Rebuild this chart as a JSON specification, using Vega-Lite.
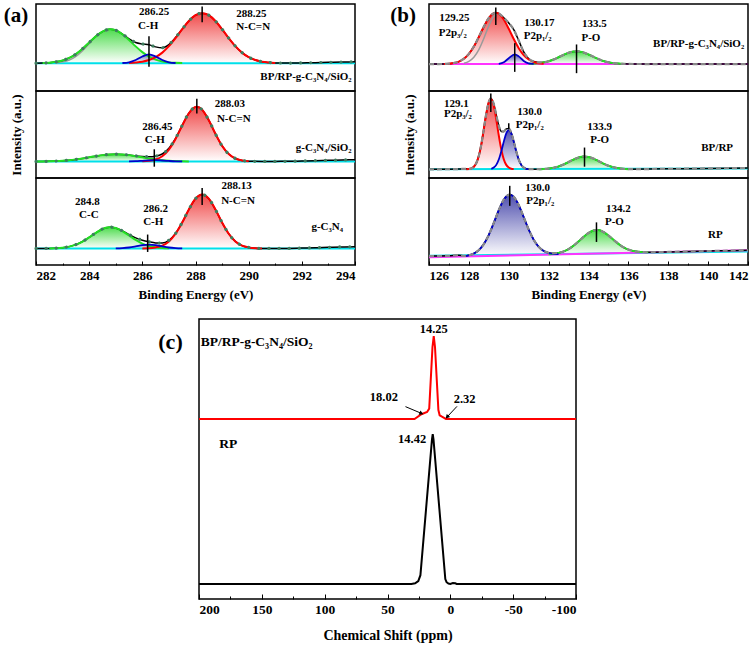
{
"$schema":"https://vega.github.io/schema/vega-lite/v6.json",
"background":"white",
"padding":{"left":3,"top":3,"right":0,"bottom":0},
"config":{"view":{"stroke":"black","strokeWidth":1.5},"font":"Liberation Serif, Times New Roman, Times, serif",
"axis":{"labelFont":"Liberation Serif, Times New Roman, Times, serif","labelFontWeight":"bold","labelFontSize":13,"labelColor":"black","titleFont":"Liberation Serif, Times New Roman, Times, serif","titleFontWeight":"bold","titleFontSize":13,"titleColor":"black","tickColor":"black","grid":false,"domain":false},
"header":{"titleFont":"Liberation Serif, Times New Roman, Times, serif","titleFontWeight":"bold","titleFontSize":13,"titleColor":"black","labels":false,"titlePadding":2},
"text":{"font":"Liberation Serif, Times New Roman, Times, serif","fontWeight":"bold","color":"black"}},
"datasets":{
"A":[
{"s":1,"k":"G","x":282.25,"y":32.2,"b":32},{"s":1,"k":"G","x":282.5,"y":32.6,"b":32},{"s":1,"k":"G","x":282.75,"y":33.5,"b":32},{"s":1,"k":"G","x":283,"y":35.1,"b":32},{"s":1,"k":"G","x":283.25,"y":38.0,"b":32},{"s":1,"k":"G","x":283.5,"y":42.4,"b":32},{"s":1,"k":"G","x":283.75,"y":48.5,"b":32},{"s":1,"k":"G","x":284,"y":55.7,"b":32},{"s":1,"k":"G","x":284.25,"y":62.8,"b":32},{"s":1,"k":"G","x":284.5,"y":68.3,"b":32},{"s":1,"k":"G","x":284.75,"y":70.9,"b":32},{"s":1,"k":"G","x":284.8,"y":71.0,"b":32},{"s":1,"k":"G","x":285,"y":69.8,"b":32},{"s":1,"k":"G","x":285.25,"y":65.3,"b":32},{"s":1,"k":"G","x":285.5,"y":58.6,"b":32},{"s":1,"k":"G","x":285.75,"y":51.3,"b":32},{"s":1,"k":"G","x":286,"y":44.7,"b":32},{"s":1,"k":"G","x":286.25,"y":39.5,"b":32},{"s":1,"k":"G","x":286.5,"y":36.1,"b":32},{"s":1,"k":"G","x":286.75,"y":34.0,"b":32},{"s":1,"k":"G","x":287,"y":32.9,"b":32},{"s":1,"k":"G","x":287.25,"y":32.4,"b":32},{"s":1,"k":"G","x":287.5,"y":32.1,"b":32},
{"s":1,"k":"g2","x":282.75,"y":32.3},{"s":1,"k":"g2","x":283,"y":33.5},{"s":1,"k":"g2","x":283.25,"y":35.6},{"s":1,"k":"g2","x":283.5,"y":39.7},{"s":1,"k":"g2","x":283.75,"y":46.2},{"s":1,"k":"g2","x":284,"y":54.4},{"s":1,"k":"g2","x":284.25,"y":62.6},{"s":1,"k":"g2","x":284.5,"y":68.0},{"s":1,"k":"g2","x":284.75,"y":69.8},
{"s":1,"k":"R","x":285.5,"y":32.3,"b":32},{"s":1,"k":"R","x":285.75,"y":32.8,"b":32},{"s":1,"k":"R","x":286,"y":33.7,"b":32},{"s":1,"k":"R","x":286.25,"y":35.6,"b":32},{"s":1,"k":"R","x":286.5,"y":38.9,"b":32},{"s":1,"k":"R","x":286.75,"y":44.1,"b":32},{"s":1,"k":"R","x":287,"y":51.5,"b":32},{"s":1,"k":"R","x":287.25,"y":60.8,"b":32},{"s":1,"k":"R","x":287.5,"y":71.0,"b":32},{"s":1,"k":"R","x":287.75,"y":80.4,"b":32},{"s":1,"k":"R","x":288,"y":87.1,"b":32},{"s":1,"k":"R","x":288.25,"y":89.5,"b":32},{"s":1,"k":"R","x":288.5,"y":87.1,"b":32},{"s":1,"k":"R","x":288.75,"y":80.4,"b":32},{"s":1,"k":"R","x":289,"y":71.0,"b":32},{"s":1,"k":"R","x":289.25,"y":60.8,"b":32},{"s":1,"k":"R","x":289.5,"y":51.5,"b":32},{"s":1,"k":"R","x":289.75,"y":44.1,"b":32},{"s":1,"k":"R","x":290,"y":38.9,"b":32},{"s":1,"k":"R","x":290.25,"y":35.6,"b":32},{"s":1,"k":"R","x":290.5,"y":33.7,"b":32},{"s":1,"k":"R","x":290.75,"y":32.8,"b":32},{"s":1,"k":"R","x":291,"y":32.3,"b":32},
{"s":1,"k":"B","x":285.25,"y":32.2,"b":32},{"s":1,"k":"B","x":285.5,"y":33.0,"b":32},{"s":1,"k":"B","x":285.75,"y":35.6,"b":32},{"s":1,"k":"B","x":286,"y":39.7,"b":32},{"s":1,"k":"B","x":286.25,"y":42.0,"b":32},{"s":1,"k":"B","x":286.5,"y":39.7,"b":32},{"s":1,"k":"B","x":286.75,"y":35.6,"b":32},{"s":1,"k":"B","x":287,"y":33.0,"b":32},{"s":1,"k":"B","x":287.25,"y":32.2,"b":32},
{"s":1,"k":"E","x":282,"y":32.0},{"s":1,"k":"E","x":282.25,"y":32.2},{"s":1,"k":"E","x":282.5,"y":32.6},{"s":1,"k":"E","x":282.75,"y":33.5},{"s":1,"k":"E","x":283,"y":35.1},{"s":1,"k":"E","x":283.25,"y":38.0},{"s":1,"k":"E","x":283.5,"y":42.4},{"s":1,"k":"E","x":283.75,"y":48.5},{"s":1,"k":"E","x":284,"y":55.7},{"s":1,"k":"E","x":284.25,"y":62.8},{"s":1,"k":"E","x":284.5,"y":68.3},{"s":1,"k":"E","x":284.75,"y":70.9},{"s":1,"k":"E","x":284.8,"y":71.0},{"s":1,"k":"E","x":285,"y":69.8},{"s":1,"k":"E","x":285.25,"y":65.5},{"s":1,"k":"E","x":285.5,"y":59.9},{"s":1,"k":"E","x":285.75,"y":55.7},{"s":1,"k":"E","x":286,"y":54.1},{"s":1,"k":"E","x":286.25,"y":53.1},{"s":1,"k":"E","x":286.5,"y":50.7},{"s":1,"k":"E","x":286.75,"y":49.7},{"s":1,"k":"E","x":287,"y":53.4},{"s":1,"k":"E","x":287.25,"y":61.4},{"s":1,"k":"E","x":287.5,"y":71.1},{"s":1,"k":"E","x":287.75,"y":80.4},{"s":1,"k":"E","x":288,"y":87.1},{"s":1,"k":"E","x":288.25,"y":89.5},{"s":1,"k":"E","x":288.5,"y":87.1},{"s":1,"k":"E","x":288.75,"y":80.4},{"s":1,"k":"E","x":289,"y":71.0},{"s":1,"k":"E","x":289.25,"y":60.8},{"s":1,"k":"E","x":289.5,"y":51.5},{"s":1,"k":"E","x":289.75,"y":44.1},{"s":1,"k":"E","x":290,"y":38.9},{"s":1,"k":"E","x":290.25,"y":35.6},{"s":1,"k":"E","x":290.5,"y":33.7},{"s":1,"k":"E","x":290.75,"y":32.8},{"s":1,"k":"E","x":291,"y":32.3},{"s":1,"k":"E","x":291.5,"y":32.1},{"s":1,"k":"E","x":292,"y":32.3},{"s":1,"k":"E","x":292.5,"y":32.6},{"s":1,"k":"E","x":293,"y":33.0},{"s":1,"k":"E","x":293.5,"y":33.3},{"s":1,"k":"E","x":294,"y":33.5},
{"s":1,"k":"bc","x":282,"y":32},{"s":1,"k":"bc","x":294,"y":32},
{"s":1,"k":"v","x":284.8},
{"s":1,"k":"m","x":288.25,"y":79,"y2":97},{"s":1,"k":"m","x":286.25,"y":28,"y2":63},
{"s":1,"k":"t","x":286.44,"y":91,"t":"286.25"},{"s":1,"k":"t","x":286.22,"y":75,"t":"C-H"},{"s":1,"k":"t","x":290.1,"y":88,"t":"288.25"},{"s":1,"k":"t","x":290.17,"y":73,"t":"N-C=N"},
{"s":1,"k":"tr","x":293.87,"y":16.6,"t":"BP/RP-g-C₃N₄/SiO₂"},
{"s":1,"k":"p","x":281.25,"y":86,"t":"(a)"},

{"s":2,"k":"G","x":282,"y":19.0,"b":19},{"s":2,"k":"G","x":282.25,"y":19.1,"b":19},{"s":2,"k":"G","x":282.5,"y":19.3,"b":19},{"s":2,"k":"G","x":282.75,"y":19.5,"b":19},{"s":2,"k":"G","x":283,"y":19.9,"b":19},{"s":2,"k":"G","x":283.25,"y":20.5,"b":19},{"s":2,"k":"G","x":283.5,"y":21.4,"b":19},{"s":2,"k":"G","x":283.75,"y":22.5,"b":19},{"s":2,"k":"G","x":284,"y":23.8,"b":19},{"s":2,"k":"G","x":284.25,"y":25.1,"b":19},{"s":2,"k":"G","x":284.5,"y":26.3,"b":19},{"s":2,"k":"G","x":284.75,"y":27.1,"b":19},{"s":2,"k":"G","x":285,"y":27.4,"b":19},{"s":2,"k":"G","x":285.25,"y":27.1,"b":19},{"s":2,"k":"G","x":285.5,"y":26.3,"b":19},{"s":2,"k":"G","x":285.75,"y":25.1,"b":19},{"s":2,"k":"G","x":286,"y":23.8,"b":19},{"s":2,"k":"G","x":286.25,"y":22.5,"b":19},{"s":2,"k":"G","x":286.5,"y":21.4,"b":19},{"s":2,"k":"G","x":286.75,"y":20.5,"b":19},{"s":2,"k":"G","x":287,"y":19.9,"b":19},{"s":2,"k":"G","x":287.25,"y":19.5,"b":19},{"s":2,"k":"G","x":287.5,"y":19.3,"b":19},{"s":2,"k":"G","x":287.75,"y":19.1,"b":19},
{"s":2,"k":"R","x":286,"y":19.2,"b":19},{"s":2,"k":"R","x":286.25,"y":19.7,"b":19},{"s":2,"k":"R","x":286.5,"y":21.2,"b":19},{"s":2,"k":"R","x":286.75,"y":25.0,"b":19},{"s":2,"k":"R","x":287,"y":32.6,"b":19},{"s":2,"k":"R","x":287.25,"y":44.8,"b":19},{"s":2,"k":"R","x":287.5,"y":60.3,"b":19},{"s":2,"k":"R","x":287.75,"y":74.4,"b":19},{"s":2,"k":"R","x":288,"y":81.6,"b":19},{"s":2,"k":"R","x":288.05,"y":81.8,"b":19},{"s":2,"k":"R","x":288.25,"y":78.4,"b":19},{"s":2,"k":"R","x":288.5,"y":66.4,"b":19},{"s":2,"k":"R","x":288.75,"y":50.8,"b":19},{"s":2,"k":"R","x":289,"y":36.9,"b":19},{"s":2,"k":"R","x":289.25,"y":27.5,"b":19},{"s":2,"k":"R","x":289.5,"y":22.4,"b":19},{"s":2,"k":"R","x":289.75,"y":20.1,"b":19},{"s":2,"k":"R","x":290,"y":19.3,"b":19},
{"s":2,"k":"B","x":285.5,"y":19.1,"b":19},{"s":2,"k":"B","x":285.75,"y":19.3,"b":19},{"s":2,"k":"B","x":286,"y":19.8,"b":19},{"s":2,"k":"B","x":286.25,"y":20.3,"b":19},{"s":2,"k":"B","x":286.5,"y":20.5,"b":19},{"s":2,"k":"B","x":286.75,"y":20.1,"b":19},{"s":2,"k":"B","x":287,"y":19.6,"b":19},{"s":2,"k":"B","x":287.25,"y":19.2,"b":19},{"s":2,"k":"B","x":287.5,"y":19.05,"b":19},
{"s":2,"k":"E","x":282,"y":19.0},{"s":2,"k":"E","x":282.25,"y":19.1},{"s":2,"k":"E","x":282.5,"y":19.3},{"s":2,"k":"E","x":282.75,"y":19.5},{"s":2,"k":"E","x":283,"y":19.9},{"s":2,"k":"E","x":283.25,"y":20.5},{"s":2,"k":"E","x":283.5,"y":21.4},{"s":2,"k":"E","x":283.75,"y":22.5},{"s":2,"k":"E","x":284,"y":23.8},{"s":2,"k":"E","x":284.25,"y":25.1},{"s":2,"k":"E","x":284.5,"y":26.3},{"s":2,"k":"E","x":284.75,"y":27.1},{"s":2,"k":"E","x":285,"y":27.4},{"s":2,"k":"E","x":285.25,"y":27.1},{"s":2,"k":"E","x":285.5,"y":26.4},{"s":2,"k":"E","x":285.75,"y":25.4},{"s":2,"k":"E","x":286,"y":24.8},{"s":2,"k":"E","x":286.25,"y":24.5},{"s":2,"k":"E","x":286.5,"y":25.1},{"s":2,"k":"E","x":286.75,"y":27.6},{"s":2,"k":"E","x":287,"y":34.1},{"s":2,"k":"E","x":287.25,"y":45.5},{"s":2,"k":"E","x":287.5,"y":60.6},{"s":2,"k":"E","x":287.75,"y":74.5},{"s":2,"k":"E","x":288,"y":81.6},{"s":2,"k":"E","x":288.05,"y":81.8},{"s":2,"k":"E","x":288.25,"y":78.4},{"s":2,"k":"E","x":288.5,"y":66.4},{"s":2,"k":"E","x":288.75,"y":50.8},{"s":2,"k":"E","x":289,"y":36.9},{"s":2,"k":"E","x":289.25,"y":27.5},{"s":2,"k":"E","x":289.5,"y":22.4},{"s":2,"k":"E","x":289.75,"y":20.1},{"s":2,"k":"E","x":290,"y":19.3},{"s":2,"k":"E","x":290.5,"y":19.1},{"s":2,"k":"E","x":291,"y":19.1},{"s":2,"k":"E","x":291.5,"y":19.2},{"s":2,"k":"E","x":292,"y":19.5},{"s":2,"k":"E","x":292.5,"y":19.9},{"s":2,"k":"E","x":293,"y":20.3},{"s":2,"k":"E","x":293.5,"y":20.7},{"s":2,"k":"E","x":294,"y":21.0},
{"s":2,"k":"bc","x":282,"y":19},{"s":2,"k":"bc","x":294,"y":19},
{"s":2,"k":"v","x":284.8},
{"s":2,"k":"m","x":288.05,"y":74,"y2":91},{"s":2,"k":"m","x":286.45,"y":13,"y2":33},
{"s":2,"k":"t","x":289.29,"y":85.5,"t":"288.03"},{"s":2,"k":"t","x":289.44,"y":68,"t":"N-C=N"},{"s":2,"k":"t","x":286.57,"y":59,"t":"286.45"},{"s":2,"k":"t","x":286.47,"y":44,"t":"C-H"},
{"s":2,"k":"tr","x":293.87,"y":34,"t":"g-C₃N₄/SiO₂"},

{"s":3,"k":"G","x":282.5,"y":19.1,"b":19},{"s":3,"k":"G","x":282.75,"y":19.3,"b":19},{"s":3,"k":"G","x":283,"y":19.9,"b":19},{"s":3,"k":"G","x":283.25,"y":21.1,"b":19},{"s":3,"k":"G","x":283.5,"y":23.4,"b":19},{"s":3,"k":"G","x":283.75,"y":27.0,"b":19},{"s":3,"k":"G","x":284,"y":31.8,"b":19},{"s":3,"k":"G","x":284.25,"y":37.0,"b":19},{"s":3,"k":"G","x":284.5,"y":41.4,"b":19},{"s":3,"k":"G","x":284.75,"y":43.4,"b":19},{"s":3,"k":"G","x":284.8,"y":43.5,"b":19},{"s":3,"k":"G","x":285,"y":42.5,"b":19},{"s":3,"k":"G","x":285.25,"y":38.9,"b":19},{"s":3,"k":"G","x":285.5,"y":33.9,"b":19},{"s":3,"k":"G","x":285.75,"y":28.8,"b":19},{"s":3,"k":"G","x":286,"y":24.6,"b":19},{"s":3,"k":"G","x":286.25,"y":21.9,"b":19},{"s":3,"k":"G","x":286.5,"y":20.3,"b":19},{"s":3,"k":"G","x":286.75,"y":19.5,"b":19},{"s":3,"k":"G","x":287,"y":19.2,"b":19},
{"s":3,"k":"R","x":286,"y":19.1,"b":19},{"s":3,"k":"R","x":286.25,"y":19.3,"b":19},{"s":3,"k":"R","x":286.5,"y":20.2,"b":19},{"s":3,"k":"R","x":286.75,"y":22.3,"b":19},{"s":3,"k":"R","x":287,"y":27.1,"b":19},{"s":3,"k":"R","x":287.25,"y":35.9,"b":19},{"s":3,"k":"R","x":287.5,"y":48.8,"b":19},{"s":3,"k":"R","x":287.75,"y":63.8,"b":19},{"s":3,"k":"R","x":288,"y":76.2,"b":19},{"s":3,"k":"R","x":288.25,"y":81.0,"b":19},{"s":3,"k":"R","x":288.5,"y":76.2,"b":19},{"s":3,"k":"R","x":288.75,"y":63.8,"b":19},{"s":3,"k":"R","x":289,"y":48.8,"b":19},{"s":3,"k":"R","x":289.25,"y":35.9,"b":19},{"s":3,"k":"R","x":289.5,"y":27.1,"b":19},{"s":3,"k":"R","x":289.75,"y":22.3,"b":19},{"s":3,"k":"R","x":290,"y":20.2,"b":19},{"s":3,"k":"R","x":290.25,"y":19.3,"b":19},{"s":3,"k":"R","x":290.5,"y":19.05,"b":19},
{"s":3,"k":"B","x":285,"y":19.1,"b":19},{"s":3,"k":"B","x":285.25,"y":19.4,"b":19},{"s":3,"k":"B","x":285.5,"y":20.1,"b":19},{"s":3,"k":"B","x":285.75,"y":21.4,"b":19},{"s":3,"k":"B","x":286,"y":22.9,"b":19},{"s":3,"k":"B","x":286.25,"y":23.5,"b":19},{"s":3,"k":"B","x":286.5,"y":22.9,"b":19},{"s":3,"k":"B","x":286.75,"y":21.4,"b":19},{"s":3,"k":"B","x":287,"y":20.1,"b":19},{"s":3,"k":"B","x":287.25,"y":19.4,"b":19},{"s":3,"k":"B","x":287.5,"y":19.1,"b":19},
{"s":3,"k":"E","x":282,"y":19.0},{"s":3,"k":"E","x":282.5,"y":19.1},{"s":3,"k":"E","x":282.75,"y":19.3},{"s":3,"k":"E","x":283,"y":19.9},{"s":3,"k":"E","x":283.25,"y":21.1},{"s":3,"k":"E","x":283.5,"y":23.4},{"s":3,"k":"E","x":283.75,"y":27.0},{"s":3,"k":"E","x":284,"y":31.8},{"s":3,"k":"E","x":284.25,"y":37.0},{"s":3,"k":"E","x":284.5,"y":41.4},{"s":3,"k":"E","x":284.75,"y":43.4},{"s":3,"k":"E","x":284.8,"y":43.5},{"s":3,"k":"E","x":285,"y":42.6},{"s":3,"k":"E","x":285.25,"y":39.3},{"s":3,"k":"E","x":285.5,"y":35.0},{"s":3,"k":"E","x":285.75,"y":31.2},{"s":3,"k":"E","x":286,"y":28.5},{"s":3,"k":"E","x":286.25,"y":26.7},{"s":3,"k":"E","x":286.5,"y":25.4},{"s":3,"k":"E","x":286.75,"y":25.2},{"s":3,"k":"E","x":287,"y":28.4},{"s":3,"k":"E","x":287.25,"y":36.3},{"s":3,"k":"E","x":287.5,"y":48.9},{"s":3,"k":"E","x":287.75,"y":63.8},{"s":3,"k":"E","x":288,"y":76.2},{"s":3,"k":"E","x":288.25,"y":81.0},{"s":3,"k":"E","x":288.5,"y":76.2},{"s":3,"k":"E","x":288.75,"y":63.8},{"s":3,"k":"E","x":289,"y":48.8},{"s":3,"k":"E","x":289.25,"y":35.9},{"s":3,"k":"E","x":289.5,"y":27.1},{"s":3,"k":"E","x":289.75,"y":22.3},{"s":3,"k":"E","x":290,"y":20.2},{"s":3,"k":"E","x":290.25,"y":19.3},{"s":3,"k":"E","x":290.5,"y":19.0},{"s":3,"k":"E","x":291,"y":19.0},{"s":3,"k":"E","x":291.5,"y":19.1},{"s":3,"k":"E","x":292,"y":19.4},{"s":3,"k":"E","x":292.5,"y":19.8},{"s":3,"k":"E","x":293,"y":20.3},{"s":3,"k":"E","x":293.5,"y":20.8},{"s":3,"k":"E","x":294,"y":21.0},
{"s":3,"k":"bc","x":282,"y":19},{"s":3,"k":"bc","x":294,"y":19},
{"s":3,"k":"v","x":284.8},
{"s":3,"k":"m","x":288.25,"y":69,"y2":88.6},{"s":3,"k":"m","x":286.2,"y":15,"y2":35},
{"s":3,"k":"t","x":289.55,"y":90.5,"t":"288.13"},{"s":3,"k":"t","x":289.6,"y":73,"t":"N-C=N"},{"s":3,"k":"t","x":283.93,"y":72,"t":"284.8"},{"s":3,"k":"t","x":283.99,"y":57,"t":"C-C"},{"s":3,"k":"t","x":286.5,"y":64.5,"t":"286.2"},{"s":3,"k":"t","x":286.41,"y":50,"t":"C-H"},
{"s":3,"k":"tr","x":293.55,"y":43.5,"t":"g-C₃N₄"}
],
"B":[
{"s":1,"k":"R","x":126.75,"y":31.1,"b":31},{"s":1,"k":"R","x":127,"y":31.4,"b":31},{"s":1,"k":"R","x":127.25,"y":32.2,"b":31},{"s":1,"k":"R","x":127.5,"y":33.8,"b":31},{"s":1,"k":"R","x":127.75,"y":37.1,"b":31},{"s":1,"k":"R","x":128,"y":42.7,"b":31},{"s":1,"k":"R","x":128.25,"y":51.1,"b":31},{"s":1,"k":"R","x":128.5,"y":62.1,"b":31},{"s":1,"k":"R","x":128.75,"y":73.8,"b":31},{"s":1,"k":"R","x":129,"y":83.9,"b":31},{"s":1,"k":"R","x":129.25,"y":89.5,"b":31},{"s":1,"k":"R","x":129.35,"y":90.0,"b":31},{"s":1,"k":"R","x":129.5,"y":88.8,"b":31},{"s":1,"k":"R","x":129.75,"y":82.2,"b":31},{"s":1,"k":"R","x":130,"y":71.5,"b":31},{"s":1,"k":"R","x":130.25,"y":59.7,"b":31},{"s":1,"k":"R","x":130.5,"y":49.2,"b":31},{"s":1,"k":"R","x":130.75,"y":41.3,"b":31},{"s":1,"k":"R","x":131,"y":36.2,"b":31},{"s":1,"k":"R","x":131.25,"y":33.4,"b":31},{"s":1,"k":"R","x":131.5,"y":32.0,"b":31},{"s":1,"k":"R","x":131.75,"y":31.4,"b":31},
{"s":1,"k":"g2","x":127.75,"y":32.0},{"s":1,"k":"g2","x":128,"y":34.1},{"s":1,"k":"g2","x":128.25,"y":38.8},{"s":1,"k":"g2","x":128.5,"y":47.6},{"s":1,"k":"g2","x":128.75,"y":60.4},{"s":1,"k":"g2","x":129,"y":74.8},{"s":1,"k":"g2","x":129.25,"y":85.9},{"s":1,"k":"g2","x":129.4,"y":88.8},
{"s":1,"k":"B","x":129.5,"y":31.3,"b":31},{"s":1,"k":"B","x":129.75,"y":33.0,"b":31},{"s":1,"k":"B","x":130,"y":37.7,"b":31},{"s":1,"k":"B","x":130.3,"y":42.0,"b":31},{"s":1,"k":"B","x":130.5,"y":39.8,"b":31},{"s":1,"k":"B","x":130.75,"y":34.6,"b":31},{"s":1,"k":"B","x":131,"y":31.7,"b":31},{"s":1,"k":"B","x":131.25,"y":31.1,"b":31},
{"s":1,"k":"G","x":131,"y":31.2,"b":31},{"s":1,"k":"G","x":131.25,"y":31.4,"b":31},{"s":1,"k":"G","x":131.5,"y":31.9,"b":31},{"s":1,"k":"G","x":131.75,"y":32.7,"b":31},{"s":1,"k":"G","x":132,"y":34.2,"b":31},{"s":1,"k":"G","x":132.25,"y":36.2,"b":31},{"s":1,"k":"G","x":132.5,"y":38.8,"b":31},{"s":1,"k":"G","x":132.75,"y":41.5,"b":31},{"s":1,"k":"G","x":133,"y":43.9,"b":31},{"s":1,"k":"G","x":133.25,"y":45.3,"b":31},{"s":1,"k":"G","x":133.5,"y":45.5,"b":31},{"s":1,"k":"G","x":133.75,"y":44.3,"b":31},{"s":1,"k":"G","x":134,"y":42.0,"b":31},{"s":1,"k":"G","x":134.25,"y":39.3,"b":31},{"s":1,"k":"G","x":134.5,"y":36.7,"b":31},{"s":1,"k":"G","x":134.75,"y":34.5,"b":31},{"s":1,"k":"G","x":135,"y":33.0,"b":31},{"s":1,"k":"G","x":135.25,"y":32.0,"b":31},{"s":1,"k":"G","x":135.5,"y":31.5,"b":31},{"s":1,"k":"G","x":135.75,"y":31.2,"b":31},
{"s":1,"k":"E","x":126,"y":31.0},{"s":1,"k":"E","x":126.5,"y":31.0},{"s":1,"k":"E","x":127,"y":31.4},{"s":1,"k":"E","x":127.25,"y":32.2},{"s":1,"k":"E","x":127.5,"y":33.8},{"s":1,"k":"E","x":127.75,"y":37.1},{"s":1,"k":"E","x":128,"y":42.7},{"s":1,"k":"E","x":128.25,"y":51.1},{"s":1,"k":"E","x":128.5,"y":62.1},{"s":1,"k":"E","x":128.75,"y":73.8},{"s":1,"k":"E","x":129,"y":83.9},{"s":1,"k":"E","x":129.25,"y":89.5},{"s":1,"k":"E","x":129.35,"y":90.0},{"s":1,"k":"E","x":129.5,"y":89.1},{"s":1,"k":"E","x":129.75,"y":84.2},{"s":1,"k":"E","x":130,"y":78.2},{"s":1,"k":"E","x":130.25,"y":70.5},{"s":1,"k":"E","x":130.5,"y":58.0},{"s":1,"k":"E","x":130.75,"y":44.9},{"s":1,"k":"E","x":131,"y":37.1},{"s":1,"k":"E","x":131.25,"y":33.9},{"s":1,"k":"E","x":131.5,"y":32.9},{"s":1,"k":"E","x":131.75,"y":33.1},{"s":1,"k":"E","x":132,"y":34.2},{"s":1,"k":"E","x":132.25,"y":36.2},{"s":1,"k":"E","x":132.5,"y":38.8},{"s":1,"k":"E","x":132.75,"y":41.5},{"s":1,"k":"E","x":133,"y":43.9},{"s":1,"k":"E","x":133.25,"y":45.3},{"s":1,"k":"E","x":133.5,"y":45.5},{"s":1,"k":"E","x":133.75,"y":44.3},{"s":1,"k":"E","x":134,"y":42.0},{"s":1,"k":"E","x":134.25,"y":39.3},{"s":1,"k":"E","x":134.5,"y":36.7},{"s":1,"k":"E","x":134.75,"y":34.5},{"s":1,"k":"E","x":135,"y":33.0},{"s":1,"k":"E","x":135.25,"y":32.0},{"s":1,"k":"E","x":135.5,"y":31.5},{"s":1,"k":"E","x":135.75,"y":31.2},{"s":1,"k":"E","x":136,"y":31.1},{"s":1,"k":"E","x":137,"y":31.0},{"s":1,"k":"E","x":142,"y":31.0},
{"s":1,"k":"bm","x":126,"y":31},{"s":1,"k":"bm","x":142,"y":31},
{"s":1,"k":"m","x":129.35,"y":76,"y2":96},{"s":1,"k":"m","x":130.3,"y":22,"y2":55},{"s":1,"k":"m","x":133.4,"y":20.5,"y2":53.5},
{"s":1,"k":"t","x":127.27,"y":84.4,"t":"129.25"},{"s":1,"k":"t","x":127.19,"y":67,"t":"P2p₃/₂"},{"s":1,"k":"t","x":131.53,"y":78.6,"t":"130.17"},{"s":1,"k":"t","x":131.45,"y":63,"t":"P2p₁/₂"},{"s":1,"k":"t","x":134.29,"y":77,"t":"133.5"},{"s":1,"k":"t","x":134.12,"y":61,"t":"P-O"},
{"s":1,"k":"tr","x":141.81,"y":53.5,"t":"BP/RP-g-C₃N₄/SiO₂"},
{"s":1,"k":"p","x":124.7,"y":86,"t":"(b)"},

{"s":2,"k":"R","x":127.875,"y":10.1,"b":10},{"s":2,"k":"R","x":128,"y":10.3,"b":10},{"s":2,"k":"R","x":128.125,"y":11.0,"b":10},{"s":2,"k":"R","x":128.25,"y":12.9,"b":10},{"s":2,"k":"R","x":128.375,"y":17.3,"b":10},{"s":2,"k":"R","x":128.5,"y":25.5,"b":10},{"s":2,"k":"R","x":128.625,"y":38.7,"b":10},{"s":2,"k":"R","x":128.75,"y":56.2,"b":10},{"s":2,"k":"R","x":128.875,"y":74.2,"b":10},{"s":2,"k":"R","x":129,"y":87.4,"b":10},{"s":2,"k":"R","x":129.1,"y":91.0,"b":10},{"s":2,"k":"R","x":129.25,"y":83.1,"b":10},{"s":2,"k":"R","x":129.375,"y":67.2,"b":10},{"s":2,"k":"R","x":129.5,"y":48.9,"b":10},{"s":2,"k":"R","x":129.625,"y":32.9,"b":10},{"s":2,"k":"R","x":129.75,"y":21.6,"b":10},{"s":2,"k":"R","x":129.875,"y":15.1,"b":10},{"s":2,"k":"R","x":130,"y":12.0,"b":10},{"s":2,"k":"R","x":130.125,"y":10.7,"b":10},{"s":2,"k":"R","x":130.25,"y":10.2,"b":10},
{"s":2,"k":"B","x":129.125,"y":10.6,"b":10},{"s":2,"k":"B","x":129.25,"y":12.0,"b":10},{"s":2,"k":"B","x":129.375,"y":15.1,"b":10},{"s":2,"k":"B","x":129.5,"y":21.2,"b":10},{"s":2,"k":"B","x":129.625,"y":30.6,"b":10},{"s":2,"k":"B","x":129.75,"y":41.8,"b":10},{"s":2,"k":"B","x":129.875,"y":51.3,"b":10},{"s":2,"k":"B","x":130,"y":55.0,"b":10},{"s":2,"k":"B","x":130.125,"y":51.3,"b":10},{"s":2,"k":"B","x":130.25,"y":41.8,"b":10},{"s":2,"k":"B","x":130.375,"y":30.6,"b":10},{"s":2,"k":"B","x":130.5,"y":21.2,"b":10},{"s":2,"k":"B","x":130.625,"y":15.1,"b":10},{"s":2,"k":"B","x":130.75,"y":12.0,"b":10},{"s":2,"k":"B","x":130.875,"y":10.6,"b":10},{"s":2,"k":"B","x":131,"y":10.2,"b":10},
{"s":2,"k":"G","x":131.5,"y":10.1,"b":10},{"s":2,"k":"G","x":131.75,"y":10.4,"b":10},{"s":2,"k":"G","x":132,"y":10.8,"b":10},{"s":2,"k":"G","x":132.25,"y":11.7,"b":10},{"s":2,"k":"G","x":132.5,"y":13.3,"b":10},{"s":2,"k":"G","x":132.75,"y":15.5,"b":10},{"s":2,"k":"G","x":133,"y":18.3,"b":10},{"s":2,"k":"G","x":133.25,"y":21.2,"b":10},{"s":2,"k":"G","x":133.5,"y":23.6,"b":10},{"s":2,"k":"G","x":133.75,"y":24.7,"b":10},{"s":2,"k":"G","x":134,"y":24.2,"b":10},{"s":2,"k":"G","x":134.25,"y":22.3,"b":10},{"s":2,"k":"G","x":134.5,"y":19.5,"b":10},{"s":2,"k":"G","x":134.75,"y":16.6,"b":10},{"s":2,"k":"G","x":135,"y":14.1,"b":10},{"s":2,"k":"G","x":135.25,"y":12.3,"b":10},{"s":2,"k":"G","x":135.5,"y":11.1,"b":10},{"s":2,"k":"G","x":135.75,"y":10.5,"b":10},{"s":2,"k":"G","x":136,"y":10.2,"b":10},
{"s":2,"k":"E","x":126,"y":10.0},{"s":2,"k":"E","x":127,"y":10.1},{"s":2,"k":"E","x":127.5,"y":10.3},{"s":2,"k":"E","x":127.875,"y":10.5},{"s":2,"k":"E","x":128,"y":10.4},{"s":2,"k":"E","x":128.125,"y":11.0},{"s":2,"k":"E","x":128.25,"y":12.9},{"s":2,"k":"E","x":128.375,"y":17.3},{"s":2,"k":"E","x":128.5,"y":25.5},{"s":2,"k":"E","x":128.625,"y":38.7},{"s":2,"k":"E","x":128.75,"y":56.2},{"s":2,"k":"E","x":128.875,"y":74.2},{"s":2,"k":"E","x":129,"y":87.4},{"s":2,"k":"E","x":129.1,"y":91.5},{"s":2,"k":"E","x":129.25,"y":85.1},{"s":2,"k":"E","x":129.375,"y":72.3},{"s":2,"k":"E","x":129.5,"y":60.1},{"s":2,"k":"E","x":129.625,"y":53.5},{"s":2,"k":"E","x":129.75,"y":53.4},{"s":2,"k":"E","x":129.875,"y":56.4},{"s":2,"k":"E","x":130,"y":57.0},{"s":2,"k":"E","x":130.125,"y":52.0},{"s":2,"k":"E","x":130.25,"y":42.0},{"s":2,"k":"E","x":130.375,"y":30.6},{"s":2,"k":"E","x":130.5,"y":21.2},{"s":2,"k":"E","x":130.625,"y":15.1},{"s":2,"k":"E","x":130.75,"y":12.0},{"s":2,"k":"E","x":130.875,"y":10.6},{"s":2,"k":"E","x":131,"y":10.2},{"s":2,"k":"E","x":131.5,"y":10.1},{"s":2,"k":"E","x":131.75,"y":10.4},{"s":2,"k":"E","x":132,"y":10.8},{"s":2,"k":"E","x":132.25,"y":11.7},{"s":2,"k":"E","x":132.5,"y":13.3},{"s":2,"k":"E","x":132.75,"y":15.5},{"s":2,"k":"E","x":133,"y":18.3},{"s":2,"k":"E","x":133.25,"y":21.2},{"s":2,"k":"E","x":133.5,"y":23.6},{"s":2,"k":"E","x":133.75,"y":24.7},{"s":2,"k":"E","x":134,"y":24.2},{"s":2,"k":"E","x":134.25,"y":22.3},{"s":2,"k":"E","x":134.5,"y":19.5},{"s":2,"k":"E","x":134.75,"y":16.6},{"s":2,"k":"E","x":135,"y":14.1},{"s":2,"k":"E","x":135.25,"y":12.3},{"s":2,"k":"E","x":135.5,"y":11.1},{"s":2,"k":"E","x":135.75,"y":10.5},{"s":2,"k":"E","x":136,"y":10.2},{"s":2,"k":"E","x":137,"y":10.3},{"s":2,"k":"E","x":138,"y":10.5},{"s":2,"k":"E","x":140,"y":11.0},{"s":2,"k":"E","x":142,"y":11.5},
{"s":2,"k":"bc","x":126,"y":10},{"s":2,"k":"bc","x":142,"y":11},
{"s":2,"k":"m","x":129.1,"y":76,"y2":97},{"s":2,"k":"m","x":133.8,"y":13,"y2":35},{"s":2,"k":"m","x":130.0,"y":56,"y2":63},
{"s":2,"k":"t","x":127.37,"y":85.5,"t":"129.1"},{"s":2,"k":"t","x":127.45,"y":73,"t":"P2p₃/₂"},{"s":2,"k":"t","x":131.05,"y":76,"t":"130.0"},{"s":2,"k":"t","x":131.05,"y":61,"t":"P2p₁/₂"},{"s":2,"k":"t","x":134.56,"y":59,"t":"133.9"},{"s":2,"k":"t","x":134.56,"y":44,"t":"P-O"},
{"s":2,"k":"tr","x":141.25,"y":35,"t":"BP/RP"},

{"s":3,"k":"B","x":127.75,"y":10.3,"b":9.9},{"s":3,"k":"B","x":128,"y":11.2,"b":10},{"s":3,"k":"B","x":128.25,"y":13.2,"b":10.1},{"s":3,"k":"B","x":128.5,"y":17.2,"b":10.3},{"s":3,"k":"B","x":128.75,"y":24.1,"b":10.4},{"s":3,"k":"B","x":129,"y":34.7,"b":10.5},{"s":3,"k":"B","x":129.25,"y":48.4,"b":10.6},{"s":3,"k":"B","x":129.5,"y":63.1,"b":10.8},{"s":3,"k":"B","x":129.75,"y":75.1,"b":10.9},{"s":3,"k":"B","x":130.05,"y":81.0,"b":11},{"s":3,"k":"B","x":130.25,"y":78.4,"b":11.1},{"s":3,"k":"B","x":130.5,"y":68.9,"b":11.3},{"s":3,"k":"B","x":130.75,"y":55.0,"b":11.4},{"s":3,"k":"B","x":131,"y":40.8,"b":11.5},{"s":3,"k":"B","x":131.25,"y":29.1,"b":11.6},{"s":3,"k":"B","x":131.5,"y":21.0,"b":11.8},{"s":3,"k":"B","x":131.75,"y":16.2,"b":11.9},{"s":3,"k":"B","x":132,"y":13.8,"b":12},{"s":3,"k":"B","x":132.25,"y":12.8,"b":12.1},{"s":3,"k":"B","x":132.5,"y":12.5,"b":12.3},
{"s":3,"k":"G","x":132,"y":12.3,"b":12},{"s":3,"k":"G","x":132.25,"y":12.8,"b":12.1},{"s":3,"k":"G","x":132.5,"y":13.9,"b":12.3},{"s":3,"k":"G","x":132.75,"y":15.6,"b":12.4},{"s":3,"k":"G","x":133,"y":18.3,"b":12.5},{"s":3,"k":"G","x":133.25,"y":22.2,"b":12.6},{"s":3,"k":"G","x":133.5,"y":27.1,"b":12.8},{"s":3,"k":"G","x":133.75,"y":32.3,"b":12.9},{"s":3,"k":"G","x":134,"y":36.8,"b":13},{"s":3,"k":"G","x":134.25,"y":39.6,"b":13.1},{"s":3,"k":"G","x":134.4,"y":40.2,"b":13.2},{"s":3,"k":"G","x":134.5,"y":40.1,"b":13.3},{"s":3,"k":"G","x":134.75,"y":37.9,"b":13.4},{"s":3,"k":"G","x":135,"y":33.9,"b":13.5},{"s":3,"k":"G","x":135.25,"y":29.0,"b":13.6},{"s":3,"k":"G","x":135.5,"y":24.3,"b":13.8},{"s":3,"k":"G","x":135.75,"y":20.4,"b":13.9},{"s":3,"k":"G","x":136,"y":17.7,"b":14},{"s":3,"k":"G","x":136.25,"y":16.0,"b":14.1},{"s":3,"k":"G","x":136.5,"y":15.2,"b":14.3},{"s":3,"k":"G","x":136.75,"y":14.8,"b":14.4},{"s":3,"k":"G","x":137,"y":14.6,"b":14.5},
{"s":3,"k":"E","x":126,"y":10.2},{"s":3,"k":"E","x":126.5,"y":10.3},{"s":3,"k":"E","x":127,"y":10.5},{"s":3,"k":"E","x":127.5,"y":11.3},{"s":3,"k":"E","x":127.75,"y":10.4},{"s":3,"k":"E","x":128,"y":11.2},{"s":3,"k":"E","x":128.25,"y":13.2},{"s":3,"k":"E","x":128.5,"y":17.2},{"s":3,"k":"E","x":128.75,"y":24.1},{"s":3,"k":"E","x":129,"y":34.7},{"s":3,"k":"E","x":129.25,"y":48.4},{"s":3,"k":"E","x":129.5,"y":63.1},{"s":3,"k":"E","x":129.75,"y":75.1},{"s":3,"k":"E","x":130.05,"y":81.0},{"s":3,"k":"E","x":130.25,"y":78.4},{"s":3,"k":"E","x":130.5,"y":68.9},{"s":3,"k":"E","x":130.75,"y":55.0},{"s":3,"k":"E","x":131,"y":40.8},{"s":3,"k":"E","x":131.25,"y":29.1},{"s":3,"k":"E","x":131.5,"y":21.0},{"s":3,"k":"E","x":131.75,"y":16.2},{"s":3,"k":"E","x":132,"y":14.1},{"s":3,"k":"E","x":132.25,"y":13.5},{"s":3,"k":"E","x":132.5,"y":14.1},{"s":3,"k":"E","x":132.75,"y":15.6},{"s":3,"k":"E","x":133,"y":18.3},{"s":3,"k":"E","x":133.25,"y":22.2},{"s":3,"k":"E","x":133.5,"y":27.1},{"s":3,"k":"E","x":133.75,"y":32.3},{"s":3,"k":"E","x":134,"y":36.8},{"s":3,"k":"E","x":134.25,"y":39.6},{"s":3,"k":"E","x":134.4,"y":40.2},{"s":3,"k":"E","x":134.5,"y":40.1},{"s":3,"k":"E","x":134.75,"y":37.9},{"s":3,"k":"E","x":135,"y":33.9},{"s":3,"k":"E","x":135.25,"y":29.0},{"s":3,"k":"E","x":135.5,"y":24.3},{"s":3,"k":"E","x":135.75,"y":20.4},{"s":3,"k":"E","x":136,"y":17.7},{"s":3,"k":"E","x":136.25,"y":16.0},{"s":3,"k":"E","x":136.5,"y":15.2},{"s":3,"k":"E","x":136.75,"y":14.8},{"s":3,"k":"E","x":137,"y":14.6},{"s":3,"k":"E","x":138,"y":15.0},{"s":3,"k":"E","x":139,"y":15.5},{"s":3,"k":"E","x":140,"y":16.0},{"s":3,"k":"E","x":141,"y":16.5},{"s":3,"k":"E","x":142,"y":17.0},
{"s":3,"k":"bm","x":126,"y":9},{"s":3,"k":"bm","x":142,"y":17},
{"s":3,"k":"bc","x":126,"y":10.5},{"s":3,"k":"bc","x":142,"y":15.5},
{"s":3,"k":"m","x":130.05,"y":68,"y2":91},{"s":3,"k":"m","x":134.4,"y":26.5,"y2":49},
{"s":3,"k":"t","x":131.45,"y":89,"t":"130.0"},{"s":3,"k":"t","x":131.58,"y":73,"t":"P2p₁/₂"},{"s":3,"k":"t","x":135.5,"y":64.5,"t":"134.2"},{"s":3,"k":"t","x":135.3,"y":49,"t":"P-O"},
{"s":3,"k":"tr","x":140.73,"y":35,"t":"RP"}
],
"C":[
{"k":"r","x":200,"y":64.3},{"k":"r","x":28.5,"y":64.3},{"k":"r","x":23,"y":66.0},{"k":"r","x":18.5,"y":66.8},{"k":"r","x":16.8,"y":68.0},{"k":"r","x":14.2,"y":90.0},{"k":"r","x":13.2,"y":93.9},{"k":"r","x":12.2,"y":90.0},{"k":"r","x":9.5,"y":67.5},{"k":"r","x":8.5,"y":65.6},{"k":"r","x":7,"y":65.2},{"k":"r","x":5,"y":64.7},{"k":"r","x":3.5,"y":64.3},{"k":"r","x":-100,"y":64.3},
{"k":"k","x":200,"y":5.4},{"k":"k","x":31,"y":5.4},{"k":"k","x":28,"y":5.6},{"k":"k","x":25.5,"y":6.4},{"k":"k","x":23.8,"y":8.5},{"k":"k","x":14.6,"y":57.0},{"k":"k","x":14,"y":58.9},{"k":"k","x":13.4,"y":57.0},{"k":"k","x":4,"y":7.1},{"k":"k","x":3,"y":6.0},{"k":"k","x":1.5,"y":5.5},{"k":"k","x":0,"y":5.4},{"k":"k","x":-2,"y":5.7},{"k":"k","x":-4,"y":5.6},{"k":"k","x":-5,"y":5.4},{"k":"k","x":-100,"y":5.4},
{"k":"t","x":13.2,"y":96.4,"t":"14.25"},{"k":"t","x":52.9,"y":72,"t":"18.02"},{"k":"t","x":-11.4,"y":71.4,"t":"2.32"},{"k":"t","x":30.4,"y":57.1,"t":"14.42"},
{"k":"tl","x":198.7,"y":91.7,"t":"BP/RP-g-C₃N₄/SiO₂"},{"k":"tl","x":183.9,"y":55.4,"t":"RP"},
{"k":"a","x":35.7,"y":68.7,"x2":23.0,"y2":66.3},{"k":"a","x":-5.3,"y":68.8,"x2":2.6,"y2":65.0}
]
},
"vconcat":[
{"hconcat":[
{"data":{"name":"A"},
"facet":{"row":{"field":"s","type":"ordinal","header":{"title":"Intensity (a.u.)","labels":false}}},
"spacing":{"row":0},
"bounds":"flush",
"spec":{"width":319,"height":87,
"encoding":{
"x":{"field":"x","type":"quantitative","scale":{"domain":[282,294],"nice":false,"zero":false},
"axis":{"title":"Binding Energy (eV)","values":[282,283,284,285,286,287,288,289,290,291,292,293,294],"labelExpr":"datum.value % 2 == 0 ? '' + datum.value : ''","tickSize":{"condition":{"test":"datum.value % 2 != 0","value":-2},"value":-4},"labelPadding":8,"titlePadding":6}},
"y":{"field":"y","type":"quantitative","scale":{"domain":[0,100],"nice":false,"zero":false},"axis":null}},
"layer":[
{"transform":[{"filter":"datum.k=='G'"}],"mark":{"type":"area","interpolate":"monotone","opacity":0.85,"color":{"gradient":"linear","x1":0,"y1":0,"x2":0,"y2":1,"stops":[{"offset":0,"color":"#2fd62f"},{"offset":1,"color":"#ffffff"}]}},"encoding":{"y2":{"field":"b"}}},
{"transform":[{"filter":"datum.k=='R'"}],"mark":{"type":"area","interpolate":"monotone","opacity":0.85,"color":{"gradient":"linear","x1":0,"y1":0,"x2":0,"y2":1,"stops":[{"offset":0,"color":"#ee2a2a"},{"offset":1,"color":"#ffffff"}]}},"encoding":{"y2":{"field":"b"}}},
{"transform":[{"filter":"datum.k=='B'"}],"mark":{"type":"area","interpolate":"monotone","opacity":0.6,"color":{"gradient":"linear","x1":0,"y1":0,"x2":0,"y2":1,"stops":[{"offset":0,"color":"#3030a0"},{"offset":1,"color":"#ffffff"}]}},"encoding":{"y2":{"field":"b"}}},
{"transform":[{"filter":"datum.k=='bc'"}],"mark":{"type":"line","color":"#00e0ea","strokeWidth":2}},
{"transform":[{"filter":"datum.k=='g2'"}],"mark":{"type":"line","interpolate":"monotone","color":"#9a9a9a","strokeWidth":1.5}},
{"transform":[{"filter":"datum.k=='E'"}],"mark":{"type":"line","interpolate":"monotone","color":"black","strokeWidth":1.5}},
{"transform":[{"filter":"datum.k=='G'"}],"mark":{"type":"line","interpolate":"monotone","color":"#22e022","strokeWidth":2}},
{"transform":[{"filter":"datum.k=='R'"}],"mark":{"type":"line","interpolate":"monotone","color":"#ff0000","strokeWidth":2}},
{"transform":[{"filter":"datum.k=='B'"}],"mark":{"type":"line","interpolate":"monotone","color":"#0000cc","strokeWidth":1.8}},
{"transform":[{"filter":"datum.k=='E'"}],"mark":{"type":"line","interpolate":"monotone","color":"#3e7d5e","strokeWidth":3.2,"strokeDash":[0.1,10],"strokeCap":"round"}},
{"transform":[{"filter":"datum.k=='v'"}],"mark":{"type":"rule","color":"black","strokeWidth":2,"strokeDash":[2,4]},"encoding":{"y":{"datum":0},"y2":{"datum":100}}},
{"transform":[{"filter":"datum.k=='m'"}],"mark":{"type":"rule","color":"black","strokeWidth":1.5},"encoding":{"y2":{"field":"y2"}}},
{"transform":[{"filter":"datum.k=='t'"}],"mark":{"type":"text","fontSize":11,"align":"center","baseline":"middle"},"encoding":{"text":{"field":"t"}}},
{"transform":[{"filter":"datum.k=='tr'"}],"mark":{"type":"text","fontSize":11,"align":"right","baseline":"middle"},"encoding":{"text":{"field":"t"}}},
{"transform":[{"filter":"datum.k=='p'"}],"mark":{"type":"text","fontSize":21,"align":"center","baseline":"middle"},"encoding":{"text":{"field":"t"}}}
]}},
{"data":{"name":"B"},
"facet":{"row":{"field":"s","type":"ordinal","header":{"title":"Intensity (a.u.)","labels":false}}},
"spacing":{"row":0},
"bounds":"flush",
"spec":{"width":319,"height":87,
"encoding":{
"x":{"field":"x","type":"quantitative","scale":{"domain":[126,142],"nice":false,"zero":false},
"axis":{"title":"Binding Energy (eV)","values":[126,127,128,129,130,131,132,133,134,135,136,137,138,139,140,141,142],"labelExpr":"datum.value % 2 == 0 ? '' + datum.value : ''","tickSize":{"condition":{"test":"datum.value % 2 != 0","value":-2},"value":-4},"labelPadding":8,"titlePadding":6}},
"y":{"field":"y","type":"quantitative","scale":{"domain":[0,100],"nice":false,"zero":false},"axis":null}},
"layer":[
{"transform":[{"filter":"datum.k=='G'"}],"mark":{"type":"area","interpolate":"monotone","opacity":0.85,"color":{"gradient":"linear","x1":0,"y1":0,"x2":0,"y2":1,"stops":[{"offset":0,"color":"#2fd62f"},{"offset":1,"color":"#ffffff"}]}},"encoding":{"y2":{"field":"b"}}},
{"transform":[{"filter":"datum.k=='R'"}],"mark":{"type":"area","interpolate":"monotone","opacity":0.85,"color":{"gradient":"linear","x1":0,"y1":0,"x2":0,"y2":1,"stops":[{"offset":0,"color":"#ee2a2a"},{"offset":1,"color":"#ffffff"}]}},"encoding":{"y2":{"field":"b"}}},
{"transform":[{"filter":"datum.k=='B'"}],"mark":{"type":"area","interpolate":"monotone","opacity":0.85,"color":{"gradient":"linear","x1":0,"y1":0,"x2":0,"y2":1,"stops":[{"offset":0,"color":"#3030a0"},{"offset":1,"color":"#ffffff"}]}},"encoding":{"y2":{"field":"b"}}},
{"transform":[{"filter":"datum.k=='bc'"}],"mark":{"type":"line","color":"#00e0ea","strokeWidth":2}},
{"transform":[{"filter":"datum.k=='bm'"}],"mark":{"type":"line","color":"#ff33ff","strokeWidth":2}},
{"transform":[{"filter":"datum.k=='g2'"}],"mark":{"type":"line","interpolate":"monotone","color":"#9a9a9a","strokeWidth":1.5}},
{"transform":[{"filter":"datum.k=='E'"}],"mark":{"type":"line","interpolate":"monotone","color":"black","strokeWidth":1.5}},
{"transform":[{"filter":"datum.k=='G'"}],"mark":{"type":"line","interpolate":"monotone","color":"#22e022","strokeWidth":2}},
{"transform":[{"filter":"datum.k=='R'"}],"mark":{"type":"line","interpolate":"monotone","color":"#ff0000","strokeWidth":2}},
{"transform":[{"filter":"datum.k=='B'"}],"mark":{"type":"line","interpolate":"monotone","color":"#0000cc","strokeWidth":1.8}},
{"transform":[{"filter":"datum.k=='E'"}],"mark":{"type":"line","interpolate":"monotone","color":"#8a8a8a","strokeWidth":2.2,"strokeDash":[5,3]}},
{"transform":[{"filter":"datum.k=='m'"}],"mark":{"type":"rule","color":"black","strokeWidth":1.5},"encoding":{"y2":{"field":"y2"}}},
{"transform":[{"filter":"datum.k=='t'"}],"mark":{"type":"text","fontSize":11,"align":"center","baseline":"middle"},"encoding":{"text":{"field":"t"}}},
{"transform":[{"filter":"datum.k=='tr'"}],"mark":{"type":"text","fontSize":11,"align":"right","baseline":"middle"},"encoding":{"text":{"field":"t"}}},
{"transform":[{"filter":"datum.k=='p'"}],"mark":{"type":"text","fontSize":21,"align":"center","baseline":"middle"},"encoding":{"text":{"field":"t"}}}
]}}
],"spacing":26},
{"hconcat":[
{"width":121,"height":10,"data":{"values":[{"v":0}]},"mark":{"type":"point","opacity":0},"view":{"stroke":null}},
{"width":377,"height":280,"data":{"name":"C"},
"encoding":{
"x":{"field":"x","type":"quantitative","scale":{"domain":[-100,200],"reverse":true,"nice":false,"zero":false},
"axis":{"title":"Chemical Shift (ppm)","values":[200,175,150,125,100,75,50,25,0,-25,-50,-75,-100],"labelExpr":"datum.value % 50 == 0 ? '' + datum.value : ''","tickSize":{"condition":{"test":"datum.value % 50 != 0","value":-3},"value":-5},"labelPadding":8,"titlePadding":13,"titleFontSize":14,"labelFontSize":13.5}},
"y":{"field":"y","type":"quantitative","scale":{"domain":[0,100],"nice":false,"zero":false},
"axis":{"title":"(c)","titleAngle":0,"labels":false,"ticks":false,"domain":false,"titleFontSize":22,"titleX":-29,"titleY":22,"titleBaseline":"middle","titleAlign":"center"}}},
"layer":[
{"transform":[{"filter":"datum.k=='r'"}],"mark":{"type":"line","color":"#ff0000","strokeWidth":2}},
{"transform":[{"filter":"datum.k=='k'"}],"mark":{"type":"line","color":"black","strokeWidth":2}},
{"transform":[{"filter":"datum.k=='a'"}],"mark":{"type":"rule","color":"black","strokeWidth":1},"encoding":{"x2":{"field":"x2"},"y2":{"field":"y2"}}},
{"transform":[{"filter":"datum.k=='a' && datum.x > 0"}],"mark":{"type":"point","shape":"triangle-up","filled":true,"color":"black","opacity":1,"size":22,"angle":113},"encoding":{"x":{"field":"x2","type":"quantitative"},"y":{"field":"y2","type":"quantitative"}}},
{"transform":[{"filter":"datum.k=='a' && datum.x < 0"}],"mark":{"type":"point","shape":"triangle-up","filled":true,"color":"black","opacity":1,"size":22,"angle":223},"encoding":{"x":{"field":"x2","type":"quantitative"},"y":{"field":"y2","type":"quantitative"}}},
{"transform":[{"filter":"datum.k=='t'"}],"mark":{"type":"text","fontSize":12.5,"align":"center","baseline":"middle"},"encoding":{"text":{"field":"t"}}},
{"transform":[{"filter":"datum.k=='tl'"}],"mark":{"type":"text","fontSize":13.5,"align":"left","baseline":"middle"},"encoding":{"text":{"field":"t"}}}
]}
],"spacing":0}
],
"spacing":17
}
